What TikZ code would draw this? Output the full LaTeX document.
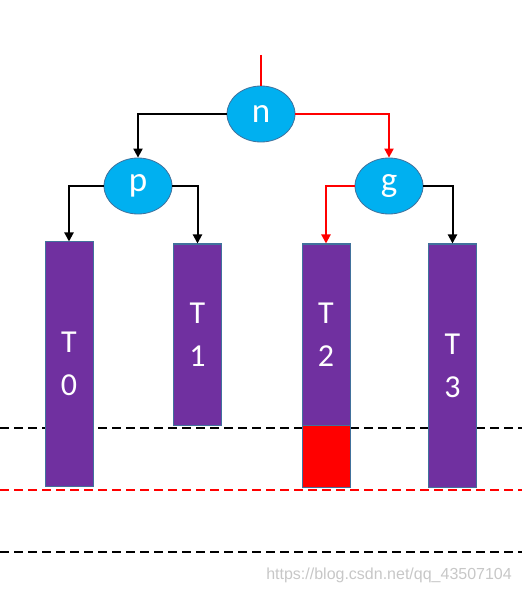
\documentclass[tikz,border=0pt]{standalone}
\usepackage{fontspec}
\setmainfont{Carlito}
\newfontfamily\wmfont{Liberation Sans}
\usetikzlibrary{shapes.geometric,arrows.meta}
\definecolor{nodecyan}{HTML}{00B0F0}
\definecolor{nodeedge}{HTML}{41719C}
\definecolor{barpurple}{HTML}{7030A0}
\definecolor{hotred}{HTML}{FF0000}
\tikzset{
  tnode/.style={ellipse,fill=nodecyan,draw=nodeedge,line width=0.8pt,minimum width=68pt,minimum height=56pt,inner sep=0pt,text=white,font=\fontsize{35}{36}\selectfont},
  bar/.style={rectangle,fill=barpurple,draw=nodeedge,line width=1pt,minimum width=48pt,inner sep=0pt,text=white,align=center,font=\fontsize{32}{43}\selectfont},
  redbox/.style={rectangle,fill=hotred,draw=nodeedge,line width=1pt,minimum width=48pt,inner sep=0pt},
  link/.style={line width=2pt,-{Triangle[length=9pt,width=9pt]}},
  dline/.style={line width=2.8pt,dash pattern=on 9pt off 5pt}
}
\begin{document}
\begin{tikzpicture}[x=1pt,y=-1pt]
\useasboundingbox (0,0) rectangle (522,593);
% dashed levels
\coordinate (l1a) at (0,428); \coordinate (l1b) at (522,428);
\coordinate (l2a) at (0,490); \coordinate (l2b) at (522,490);
\coordinate (l3a) at (0,552); \coordinate (l3b) at (522,552);
\draw[dline,black] (l1a) -- (l1b);
\draw[dline,hotred] (l2a) -- (l2b);
\draw[dline,black] (l3a) -- (l3b);
% tree nodes
\node[tnode] (n) at (261,114) {n};
\node[tnode] (p) at (138,186) {p};
\node[tnode] (g) at (389,186) {g};
% bars
\node[bar,minimum height=244pt] (T0) at (69,364) {T\\0};
\node[bar,minimum height=181pt] (T1) at (197.5,334.5) {T\\1};
\node[bar,minimum height=181pt] (T2) at (326,334.5) {T\\2};
\node[redbox,minimum height=62pt] (T2r) at (326,456) {};
\node[bar,minimum height=243pt] (T3) at (452.5,365.5) {T\\3};
% connectors
\coordinate (top) at (261,55);
\draw[line width=2pt,hotred] (top) -- (n.north);
\draw[link,black] (n.west) -| (p.north);
\draw[link,hotred] (n.east) -| (g.north);
\draw[link,black] (p.west) -| (T0.north);
\draw[link,black] (p.east) -| (T1.north);
\draw[link,hotred] (g.west) -| (T2.north);
\draw[link,black] (g.east) -| (T3.north);
% watermark
\node[anchor=east,text=black!22,font=\wmfont\fontsize{16}{18}\selectfont,inner sep=0pt] (wm) at (512,575) {https://blog.csdn.net/qq\_43507104};
\end{tikzpicture}
\end{document}
